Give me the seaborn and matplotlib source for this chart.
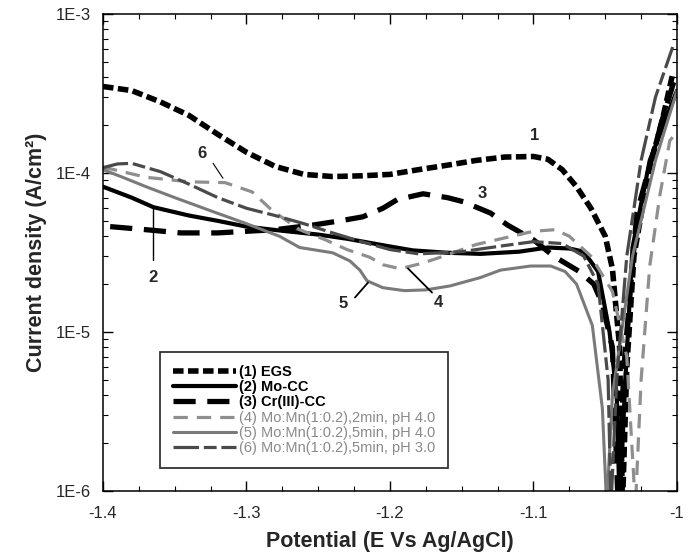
import numpy as np
import pandas as pd
import matplotlib
matplotlib.use("Agg")
import matplotlib.pyplot as plt
from matplotlib.ticker import FixedLocator, LogLocator, MultipleLocator, NullFormatter
import seaborn as sns

# Potentiodynamic polarisation curves
x_egs = [-1.40, -1.38, -1.36, -1.34, -1.32, -1.30, -1.28, -1.26, -1.24, -1.22, -1.20, -1.18,
         -1.16, -1.14, -1.12, -1.10, -1.09, -1.08, -1.07, -1.06, -1.05, -1.045, -1.04, -1.038,
         -1.035, -1.03, -1.02, -1.01, -1.003]
i_egs = [3.5e-4, 3.3e-4, 2.8e-4, 2.3e-4, 1.75e-4, 1.35e-4, 1.1e-4, 9.8e-5, 9.5e-5, 9.6e-5, 9.8e-5, 1.05e-4,
         1.12e-4, 1.2e-4, 1.26e-4, 1.27e-4, 1.22e-4, 1.05e-4, 8.2e-5, 6e-5, 4e-5, 2.5e-5, 8e-6, 8e-7,
         6e-6, 3e-5, 1e-4, 2.2e-4, 4.2e-4]

x_mocc = [-1.40, -1.38, -1.365, -1.34, -1.32, -1.30, -1.277, -1.25, -1.23, -1.20, -1.184, -1.16,
          -1.137, -1.11, -1.09, -1.075, -1.065, -1.055, -1.047, -1.042, -1.040, -1.036, -1.031,
          -1.019, -1.0]
i_mocc = [8.2e-5, 7e-5, 6.1e-5, 5.4e-5, 5.0e-5, 4.6e-5, 4.35e-5, 4.1e-5, 3.86e-5, 3.45e-5, 3.26e-5, 3.15e-5,
          3.1e-5, 3.2e-5, 3.4e-5, 3.35e-5, 3.2e-5, 2.4e-5, 1e-5, 4e-6, 8e-7, 5e-6, 3.4e-5,
          1.2e-4, 3.3e-4]

x_crcc = [-1.395, -1.37, -1.346, -1.32, -1.30, -1.28, -1.254, -1.235, -1.219, -1.205, -1.195, -1.177,
          -1.16, -1.149, -1.13, -1.118, -1.10, -1.086, -1.068, -1.058, -1.052, -1.045, -1.041,
          -1.037, -1.028, -1.01, -1.002]
i_crcc = [4.6e-5, 4.4e-5, 4.2e-5, 4.2e-5, 4.3e-5, 4.4e-5, 4.7e-5, 5e-5, 5.3e-5, 6.0e-5, 6.8e-5, 7.4e-5,
          7.0e-5, 6.6e-5, 5.6e-5, 4.7e-5, 3.8e-5, 3.0e-5, 2.4e-5, 2.0e-5, 1.5e-5, 8e-6, 8e-7,
          6e-6, 5.6e-5, 2.2e-4, 3.8e-4]

x_mn2 = [-1.40, -1.37, -1.34, -1.315, -1.296, -1.282, -1.263, -1.245, -1.23, -1.214, -1.205, -1.193,
         -1.178, -1.165, -1.14, -1.10, -1.085, -1.075, -1.06, -1.045, -1.035, -1.029, -1.025, -1.019,
         -1.012, -1.005, -1.0]
i_mn2 = [1.09e-4, 9.4e-5, 8.8e-5, 8.7e-5, 7.6e-5, 5.8e-5, 4.4e-5, 3.8e-5, 3.3e-5, 2.95e-5, 2.65e-5, 2.5e-5,
         2.7e-5, 2.95e-5, 3.55e-5, 4.3e-5, 4.4e-5, 4.0e-5, 3.0e-5, 1.8e-5, 7e-6, 8e-7, 5e-6, 2.6e-5,
         7.2e-5, 1.6e-4, 1.8e-4]

x_mn5 = [-1.40, -1.385, -1.37, -1.35, -1.323, -1.30, -1.277, -1.263, -1.24, -1.228, -1.221, -1.216,
         -1.205, -1.19, -1.175, -1.158, -1.137, -1.123, -1.102, -1.088, -1.078, -1.07, -1.059, -1.052,
         -1.049, -1.045, -1.031, -1.015, -1.0]
i_mn5 = [1.05e-4, 9.3e-5, 8.2e-5, 7e-5, 5.7e-5, 4.8e-5, 4.0e-5, 3.4e-5, 3.15e-5, 2.8e-5, 2.45e-5, 2.1e-5,
         1.9e-5, 1.82e-5, 1.84e-5, 1.95e-5, 2.2e-5, 2.45e-5, 2.6e-5, 2.6e-5, 2.4e-5, 2.0e-5, 1.1e-5, 3.3e-6,
         8e-7, 4e-6, 3e-5, 1.2e-4, 3.3e-4]

x_ph3 = [-1.40, -1.39, -1.38, -1.36, -1.34, -1.32, -1.30, -1.28, -1.26, -1.24, -1.22, -1.20, -1.18,
         -1.15, -1.12, -1.10, -1.08, -1.065, -1.055, -1.048, -1.046, -1.042, -1.035, -1.025, -1.015,
         -1.003]
i_ph3 = [1.08e-4, 1.14e-4, 1.15e-4, 1.02e-4, 8.5e-5, 7e-5, 6.0e-5, 5.4e-5, 4.8e-5, 4.2e-5, 3.7e-5, 3.3e-5, 3.1e-5,
         3.2e-5, 3.5e-5, 3.7e-5, 3.6e-5, 3.0e-5, 2e-5, 5e-6, 8e-7, 5e-6, 3e-5, 1.2e-4, 3e-4,
         6.2e-4]

labels = ["(1) EGS", "(2) Mo-CC", "(3) Cr(III)-CC",
          "(4) Mo:Mn(1:0.2),2min, pH 4.0",
          "(5) Mo:Mn(1:0.2),5min, pH 4.0",
          "(6) Mo:Mn(1:0.2),5min, pH 3.0"]

sns.set_style("ticks")
plt.rcParams["font.family"] = ["Liberation Sans", "DejaVu Sans"]

fig = plt.figure(figsize=(6.93, 5.56), dpi=100)
ax = fig.add_axes([103 / 693, 1 - 491 / 556, 574 / 693, 477 / 556])

sns.lineplot(x=x_egs, y=i_egs, ax=ax, color="black", lw=4.0, linestyle=(0, (1.9, 0.8)))
sns.lineplot(x=x_mocc, y=i_mocc, ax=ax, color="black", lw=3.0, linestyle="-")
sns.lineplot(x=x_crcc, y=i_crcc, ax=ax, color="black", lw=3.8, linestyle=(0, (4.2, 2.2)))
sns.lineplot(x=x_mn2, y=i_mn2, ax=ax, color="#8f8f8f", lw=2.3, linestyle=(0, (4.5, 2.8)))
sns.lineplot(x=x_mn5, y=i_mn5, ax=ax, color="#7a7a7a", lw=2.2, linestyle="-")
sns.lineplot(x=x_ph3, y=i_ph3, ax=ax, color="#4a4a4a", lw=2.3, linestyle=(0, (8, 1.5, 4, 1.5)))

ax.set_yscale("log")
ax.set_xlim(-1.4, -1.0)
ax.set_ylim(1e-6, 1e-3)
ax.xaxis.set_minor_locator(MultipleLocator(0.025))
ax.set_xticks([-1.4, -1.3, -1.2, -1.1, -1.0])
ax.set_xticklabels(["-1.4", "-1.3", "-1.2", "-1.1", "-1"])
ax.yaxis.set_major_locator(FixedLocator([1e-6, 1e-5, 1e-4, 1e-3]))
ax.set_yticklabels(["1E-6", "1E-5", "1E-4", "1E-3"])
ax.yaxis.set_minor_locator(LogLocator(base=10, subs=np.arange(2, 10), numticks=20))
ax.yaxis.set_minor_formatter(NullFormatter())
ax.tick_params(which="both", direction="in", top=True, right=True, labelsize=12, color="black")
ax.tick_params(which="major", length=7, width=1)
ax.tick_params(which="minor", length=3.5, width=0.8)
ax.tick_params(axis="x", which="major", pad=11)
ax.tick_params(axis="y", which="major", pad=9)
for s in ax.spines.values():
    s.set_color("black")
    s.set_linewidth(1.1)

ax.set_xlabel("Potential (E Vs Ag/AgCl)", fontsize=15.5, fontweight="bold", labelpad=7)
ax.set_ylabel("Current density (A/cm²)", fontsize=15.5, fontweight="bold", labelpad=6)

# curve numbers with leader lines
tkw = dict(fontsize=12, fontweight="bold", ha="center", va="center")
ax.text(-1.099, 10 ** -3.762, "1", **tkw)
ax.text(-1.331, 10 ** -3.876, "6", **tkw)
ax.plot([-1.3233, -1.3164], [10 ** -3.939, 10 ** -4.033], color="black", lw=0.8)
ax.text(-1.136, 10 ** -4.128, "3", **tkw)
ax.text(-1.365, 10 ** -4.657, "2", **tkw)
ax.plot([-1.3652, -1.3652], [10 ** -4.222, 10 ** -4.55], color="black", lw=1.0)
ax.text(-1.2328, 10 ** -4.821, "5", **tkw)
ax.plot([-1.2244, -1.2153], [10 ** -4.783, 10 ** -4.689], color="black", lw=1.3)
ax.text(-1.1666, 10 ** -4.815, "4", **tkw)
ax.plot([-1.1707, -1.1875], [10 ** -4.752, 10 ** -4.60], color="black", lw=1.3)

leg = ax.legend(ax.lines[:6], labels, loc="lower left", bbox_to_anchor=(0.099, 0.048),
                frameon=True, fancybox=False, edgecolor="black", fontsize=10.5,
                handlelength=4.3, handletextpad=0.2, labelspacing=0.08, borderpad=0.9,
                borderaxespad=0)
leg.get_frame().set_linewidth(1.3)
for k, t in enumerate(leg.get_texts()):
    if k < 3:
        t.set_fontweight("bold")
        t.set_color("black")
    else:
        t.set_color("#8a8a8a")

fig.savefig("out.png", dpi=100, facecolor="white")
